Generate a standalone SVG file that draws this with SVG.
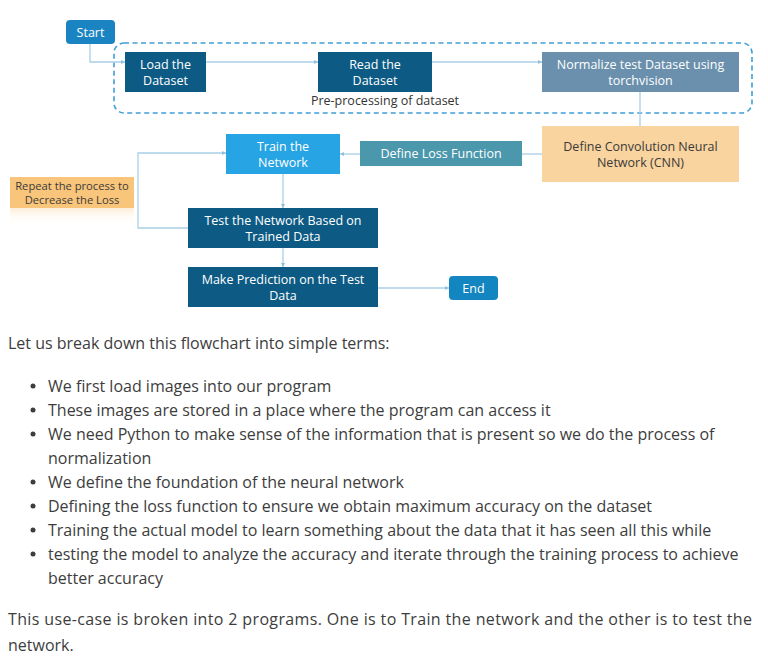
<svg xmlns="http://www.w3.org/2000/svg" width="768" height="659" viewBox="0 0 768 659">
<defs>
<style>
.n{font-family:"Open Sans","Noto Sans",sans-serif;font-size:12.5px;fill:#fff;text-anchor:middle}
.d{fill:#3a3a3a}
.s{font-size:11.2px}
.c{fill:none;stroke:#a9d0e6;stroke-width:1.3}
.b{font-family:"Open Sans","Noto Sans",sans-serif;font-size:16px;fill:#3d3d3d}
.dk{fill:#0d5b84}
</style>
<marker id="ar" markerWidth="4" markerHeight="4" refX="4" refY="2" orient="auto" markerUnits="userSpaceOnUse">
<path d="M0,0 L4,2 L0,4 z" fill="#8fc0dc"/>
</marker>
<linearGradient id="refl" x1="0" y1="0" x2="0" y2="1">
<stop offset="0" stop-color="#fbe3bf" stop-opacity="0.6"/>
<stop offset="1" stop-color="#fff" stop-opacity="0"/>
</linearGradient>
</defs>
<rect width="768" height="659" fill="#fff"/>

<g id="group-preprocessing">
<rect x="114" y="43" width="638" height="70" rx="10" fill="none" stroke="#3f9fd6" stroke-width="1.6" stroke-dasharray="5,3.5"/>
<text class="n d" x="385" y="105" style="fill:#333">Pre-processing of dataset</text>
</g>

<g id="connectors">
<path class="c" d="M90,44 V62 H125" marker-end="url(#ar)"/>
<path class="c" d="M206,62 H318" marker-end="url(#ar)"/>
<path class="c" d="M432,62 H542" marker-end="url(#ar)"/>
<path class="c" d="M640,92 V126"/>
<path class="c" d="M542,154 H522"/>
<path class="c" d="M360,154 H340" marker-end="url(#ar)"/>
<path class="c" d="M283,174 V208" marker-end="url(#ar)"/>
<path class="c" d="M283,248 V267" marker-end="url(#ar)"/>
<path class="c" d="M378,288 H449" marker-end="url(#ar)"/>
<path class="c" d="M188,228 H138 V153 H226" marker-end="url(#ar)"/>
</g>

<g id="start">
<rect x="66" y="20" width="49" height="24" rx="4" fill="#1a84c2"/>
<text class="n" x="90.5" y="36.5">Start</text>
</g>
<g id="load">
<rect x="125" y="52" width="81" height="40" class="dk"/>
<text class="n" x="165.5" y="68.5">Load the</text>
<text class="n" x="165.5" y="84.5">Dataset</text>
</g>
<g id="read">
<rect x="318" y="52" width="114" height="40" class="dk"/>
<text class="n" x="375" y="68.5">Read the</text>
<text class="n" x="375" y="84.5">Dataset</text>
</g>
<g id="normalize">
<rect x="542" y="52" width="197" height="40" fill="#6a90ad"/>
<text class="n" x="640.5" y="68.5">Normalize test Dataset using</text>
<text class="n" x="640.5" y="84.5">torchvision</text>
</g>
<g id="cnn">
<rect x="542" y="126" width="197" height="56" fill="#f9d49f"/>
<text class="n d" x="640.5" y="150.5">Define Convolution Neural</text>
<text class="n d" x="640.5" y="166.5">Network (CNN)</text>
</g>
<g id="loss">
<rect x="360" y="141" width="162" height="25" fill="#4b97ac"/>
<text class="n" x="441" y="158">Define Loss Function</text>
</g>
<g id="train">
<rect x="226" y="134" width="114" height="40" fill="#27a4e3"/>
<text class="n" x="283" y="150.5">Train the</text>
<text class="n" x="283" y="166.5">Network</text>
</g>
<g id="repeat">
<rect x="10" y="208" width="124" height="18" fill="url(#refl)"/>
<rect x="10" y="177" width="124" height="31" fill="#f9c57b"/>
<text class="n d s" x="72" y="189.5">Repeat the process to</text>
<text class="n d s" x="72" y="203.5">Decrease the Loss</text>
</g>
<g id="test">
<rect x="188" y="208" width="190" height="40" class="dk"/>
<text class="n" x="283" y="224.5">Test the Network Based on</text>
<text class="n" x="283" y="240.5">Trained Data</text>
</g>
<g id="predict">
<rect x="188" y="267" width="190" height="40" class="dk"/>
<text class="n" x="283" y="283.5">Make Prediction on the Test</text>
<text class="n" x="283" y="299.5">Data</text>
</g>
<g id="end">
<rect x="449" y="276" width="49" height="24" rx="4" fill="#1385c0"/>
<text class="n" x="473.5" y="292.5">End</text>
</g>

<g id="body-text">
<text class="b" x="8" y="349">Let us break down this flowchart into simple terms:</text>
<g fill="#3d3d3d">
<circle cx="33" cy="386" r="2.5"/>
<circle cx="33" cy="410" r="2.5"/>
<circle cx="33" cy="434" r="2.5"/>
<circle cx="33" cy="482" r="2.5"/>
<circle cx="33" cy="506" r="2.5"/>
<circle cx="33" cy="530" r="2.5"/>
<circle cx="33" cy="554" r="2.5"/>
</g>
<text class="b" x="48" y="392">We first load images into our program</text>
<text class="b" x="48" y="416">These images are stored in a place where the program can access it</text>
<text class="b" x="48" y="440">We need Python to make sense of the information that is present so we do the process of</text>
<text class="b" x="48" y="464">normalization</text>
<text class="b" x="48" y="488">We define the foundation of the neural network</text>
<text class="b" x="48" y="512">Defining the loss function to ensure we obtain maximum accuracy on the dataset</text>
<text class="b" x="48" y="536">Training the actual model to learn something about the data that it has seen all this while</text>
<text class="b" x="48" y="560">testing the model to analyze the accuracy and iterate through the training process to achieve</text>
<text class="b" x="48" y="584">better accuracy</text>
<text class="b" x="8" y="625" textLength="744" lengthAdjust="spacing">This use-case is broken into 2 programs. One is to Train the network and the other is to test the</text>
<text class="b" x="8" y="651">network.</text>
</g>
</svg>
